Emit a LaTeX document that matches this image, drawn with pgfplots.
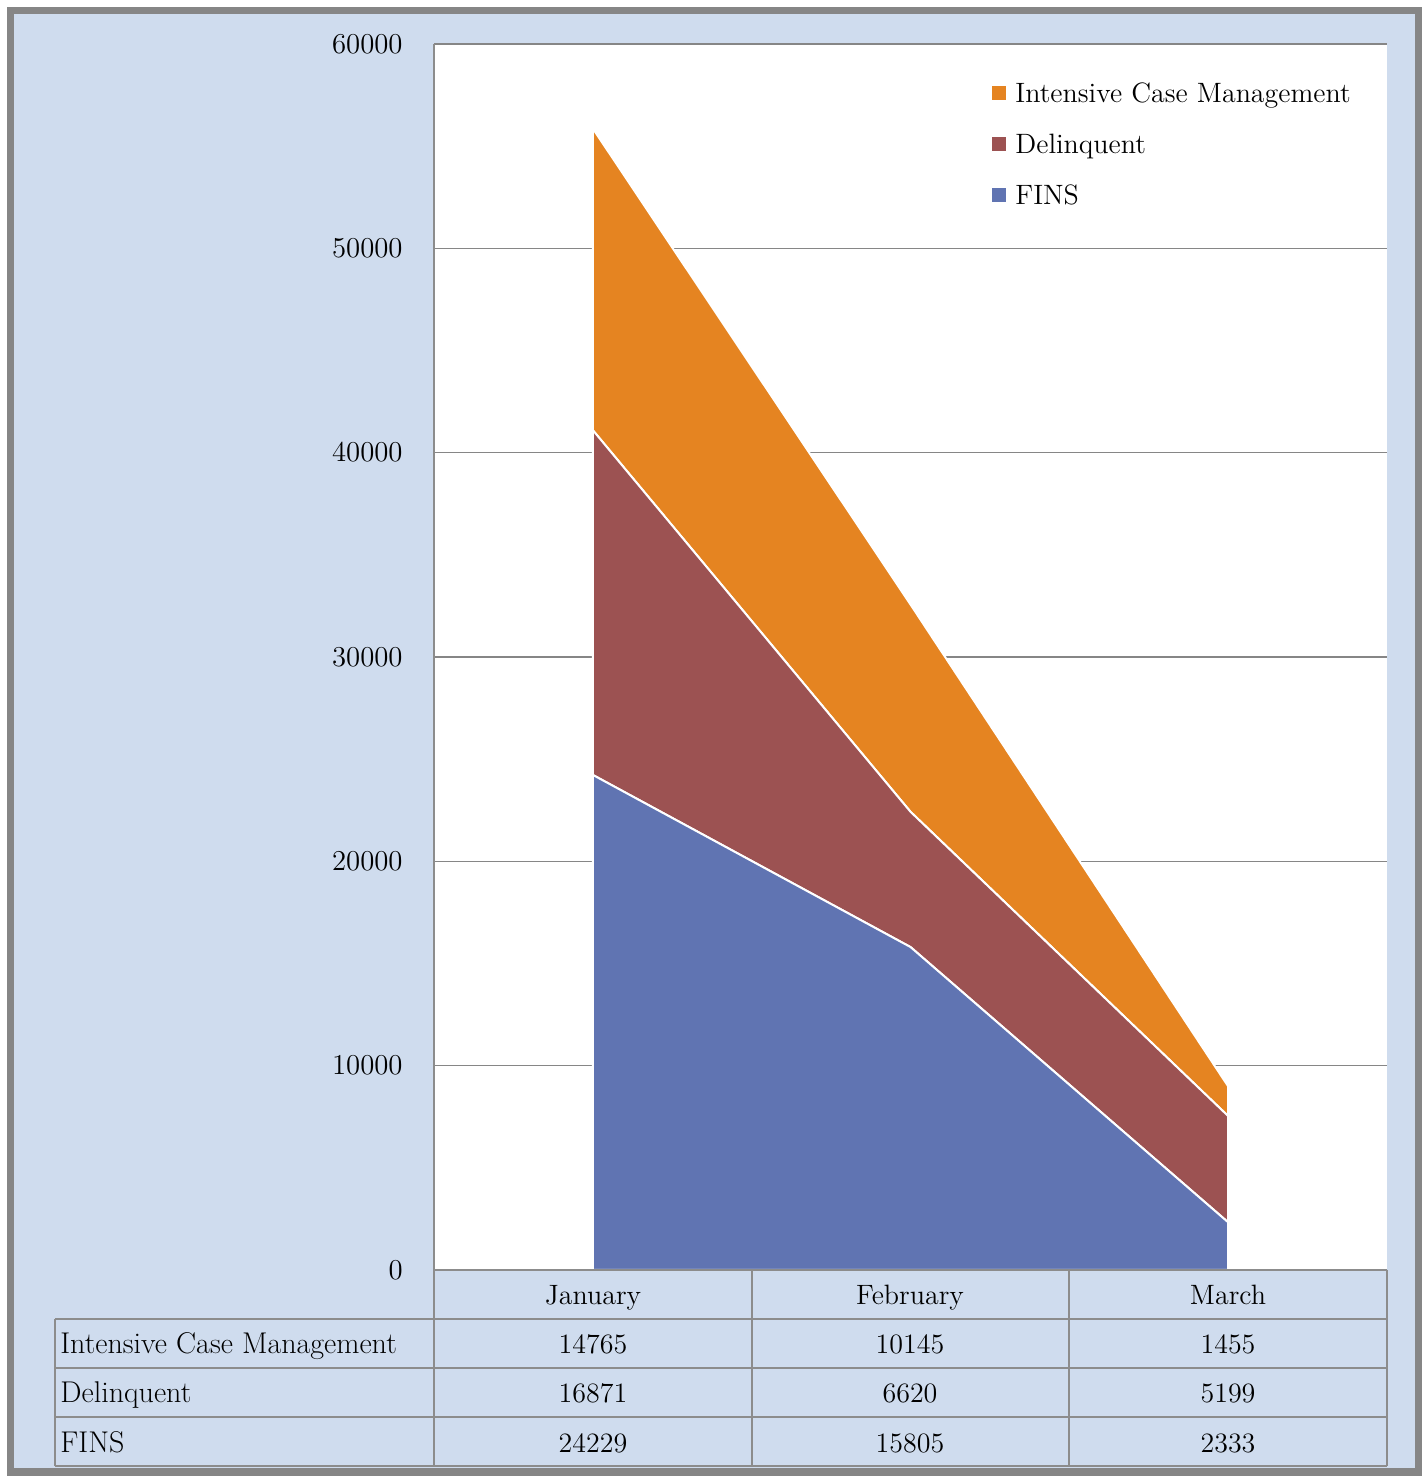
\documentclass[border=0pt]{standalone}
\usepackage{pgfplots}
\pgfplotsset{compat=1.18}
\definecolor{bgblue}{RGB}{207,220,238}
\definecolor{framegray}{RGB}{134,134,134}
\definecolor{gridgray}{RGB}{134,134,134}
\definecolor{tablegray}{RGB}{140,140,140}
\definecolor{finsblue}{RGB}{96,116,178}
\definecolor{delred}{RGB}{156,82,82}
\definecolor{icmorange}{RGB}{229,132,33}
\newcommand{\cf}{\fontsize{14}{16.8}\selectfont}
\newcommand{\rf}{\fontsize{15}{18}\selectfont}
\begin{document}
\begin{tikzpicture}
\path[fill=white] (0,0) rectangle (712pt,738pt);
\begin{scope}[shift={(0pt,738pt)},x=0.5pt,y=-0.5pt]
\draw[framegray, line width=3.5pt, fill=bgblue] (10,11) rectangle (1418,1472);
\end{scope}
\begin{axis}[
  at={(217pt,103pt)}, anchor=south west,
  scale only axis, width=476.5pt, height=613pt,
  xmin=-0.5, xmax=2.5, ymin=0, ymax=60000,
  xtick=\empty,
  ytick={0,10000,20000,30000,40000,50000,60000},
  ymajorgrids, grid style={gridgray, line width=0.75pt},
  axis line style={draw=none},
  major tick length=0pt,
  scaled y ticks=false,
  /pgf/number format/1000 sep={},
  yticklabel style={anchor=east, inner sep=0pt, xshift=-15.5pt, font=\cf},
  axis background/.style={fill=white},
  stack plots=y,
  area legend,
  reverse legend,
  legend cell align=left,
  legend style={at={(0.5855,0.969)}, anchor=north west, draw=none, fill=none,
    font=\cf, inner sep=0pt, row sep=12.4pt,
    nodes={inner sep=0pt, text height=10pt, text depth=3pt},
    /tikz/every odd column/.append style={column sep=4.5pt}},
  legend image code/.code={\fill[#1, draw=none] (0pt,-2.5pt) rectangle (7pt,4.5pt);},
]
\addplot[fill=finsblue, draw=white, line width=1pt, mark=none] coordinates {(0,24229) (1,15805) (2,2333)} \closedcycle;
\addplot[fill=delred, draw=white, line width=1pt, mark=none] coordinates {(0,16871) (1,6620) (2,5199)} \closedcycle;
\addplot[fill=icmorange, draw=white, line width=1pt, mark=none] coordinates {(0,14765) (1,10145) (2,1455)} \closedcycle;
\legend{FINS, Delinquent, Intensive Case Management}
\end{axis}
\begin{scope}[shift={(0pt,738pt)},x=0.5pt,y=-0.5pt]
\draw[tablegray, line width=1pt]
  (434,1270) -- (1387,1270)
  (55,1319) -- (1387,1319)
  (55,1368) -- (1387,1368)
  (55,1417) -- (1387,1417)
  (55,1466) -- (1387,1466)
  (55,1319) -- (55,1466)
  (434,44) -- (434,1466)
  (752,1270) -- (752,1466)
  (1069,1270) -- (1069,1466)
  (1387,1270) -- (1387,1466);
\begin{scope}[every node/.style={font=\cf, inner sep=0pt, anchor=base}]
\node at (593,1305) {January};
\node at (910,1305) {February};
\node at (1228,1305) {March};
\node[anchor=base west, font=\rf] at (60,1354) {Intensive Case Management};
\node[anchor=base west, font=\rf] at (60,1403) {Delinquent};
\node[anchor=base west, font=\rf] at (60,1452) {FINS};
\node at (593,1354) {14765};
\node at (910,1354) {10145};
\node at (1228,1354) {1455};
\node at (593,1403) {16871};
\node at (910,1403) {6620};
\node at (1228,1403) {5199};
\node at (593,1452) {24229};
\node at (910,1452) {15805};
\node at (1228,1452) {2333};
\end{scope}
\end{scope}
\end{tikzpicture}
\end{document}
